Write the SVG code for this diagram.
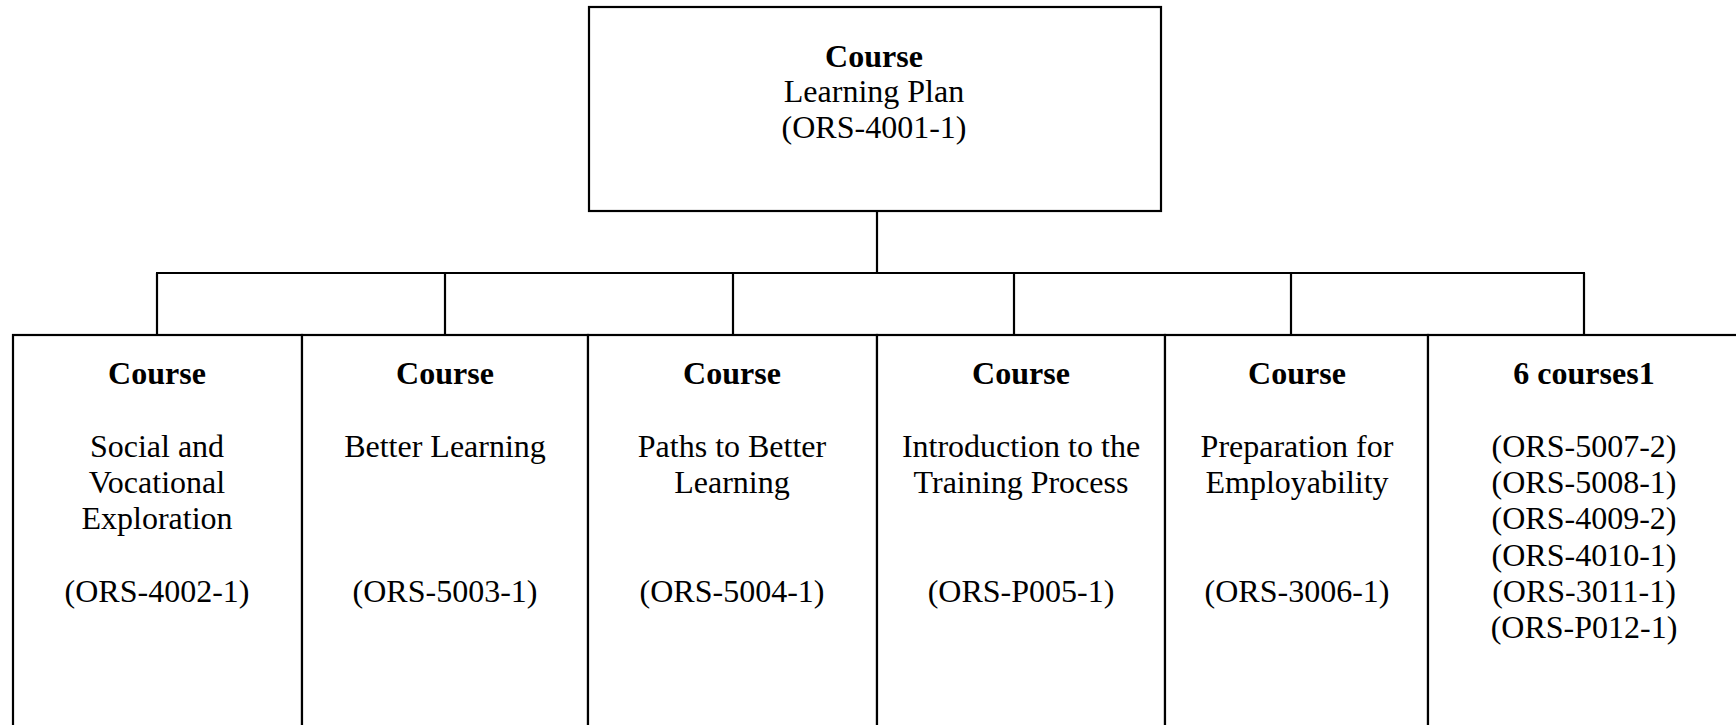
<svg xmlns="http://www.w3.org/2000/svg" width="1736" height="725" viewBox="0 0 1736 725">
<style>
.box{fill:#fff;stroke:#000;stroke-width:2.2}
.conn line{stroke:#000;stroke-width:2.2}
text{font-family:"Liberation Serif","Times New Roman",serif;font-size:32px;fill:#000;text-anchor:middle}
.b{font-weight:bold}
</style>
<rect width="1736" height="725" fill="#fff"/>
<g class="conn" id="connectors">
<line x1="877" y1="211" x2="877" y2="273"/>
<line x1="156" y1="273" x2="1585" y2="273"/>
<line x1="157" y1="273" x2="157" y2="335"/>
<line x1="445" y1="273" x2="445" y2="335"/>
<line x1="733" y1="273" x2="733" y2="335"/>
<line x1="1014" y1="273" x2="1014" y2="335"/>
<line x1="1291" y1="273" x2="1291" y2="335"/>
<line x1="1584" y1="273" x2="1584" y2="335"/>
</g>
<g id="root">
<rect class="box" x="589" y="7" width="572" height="204"/>
<text class="b" x="874" y="67">Course</text>
<text x="874" y="102">Learning Plan</text>
<text x="874" y="138">(ORS-4001-1)</text>
</g>
<g id="c1">
<rect class="box" x="13" y="335" width="289" height="420"/>
<text class="b" x="157" y="384">Course</text>
<text x="157" y="457">Social and</text>
<text x="157" y="493">Vocational</text>
<text x="157" y="529">Exploration</text>
<text x="157" y="602">(ORS-4002-1)</text>
</g>
<g id="c2">
<rect class="box" x="302" y="335" width="286" height="420"/>
<text class="b" x="445" y="384">Course</text>
<text x="445" y="457">Better Learning</text>
<text x="445" y="602">(ORS-5003-1)</text>
</g>
<g id="c3">
<rect class="box" x="588" y="335" width="289" height="420"/>
<text class="b" x="732" y="384">Course</text>
<text x="732" y="457">Paths to Better</text>
<text x="732" y="493">Learning</text>
<text x="732" y="602">(ORS-5004-1)</text>
</g>
<g id="c4">
<rect class="box" x="877" y="335" width="288" height="420"/>
<text class="b" x="1021" y="384">Course</text>
<text x="1021" y="457">Introduction to the</text>
<text x="1021" y="493">Training Process</text>
<text x="1021" y="602">(ORS-P005-1)</text>
</g>
<g id="c5">
<rect class="box" x="1165" y="335" width="263" height="420"/>
<text class="b" x="1297" y="384">Course</text>
<text x="1297" y="457">Preparation for</text>
<text x="1297" y="493">Employability</text>
<text x="1297" y="602">(ORS-3006-1)</text>
</g>
<g id="c6">
<rect class="box" x="1428" y="335" width="330" height="420"/>
<text class="b" x="1584" y="384">6 courses1</text>
<text x="1584" y="457">(ORS-5007-2)</text>
<text x="1584" y="493">(ORS-5008-1)</text>
<text x="1584" y="529">(ORS-4009-2)</text>
<text x="1584" y="566">(ORS-4010-1)</text>
<text x="1584" y="602">(ORS-3011-1)</text>
<text x="1584" y="638">(ORS-P012-1)</text>
</g>
</svg>
